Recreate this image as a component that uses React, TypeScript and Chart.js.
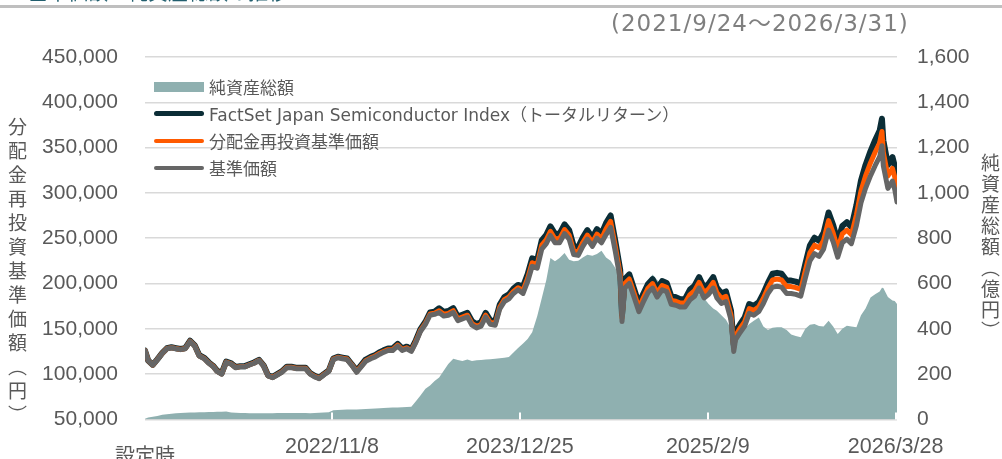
import { useEffect, useRef } from 'react';
import { Chart, registerables } from 'chart.js';

Chart.register(...registerables);

// ---- Data ----
const dates = [
  "2021-09-24","2021-10-01","2021-10-11","2021-10-21","2021-11-01","2021-11-11","2021-11-21","2021-12-01","2021-12-11","2021-12-21",
  "2022-01-01","2022-01-11","2022-01-21","2022-02-01","2022-02-11","2022-02-21","2022-03-01","2022-03-11","2022-03-21",
  "2022-04-01","2022-04-11","2022-04-21","2022-05-01","2022-05-11","2022-05-21","2022-06-01","2022-06-11","2022-06-21",
  "2022-07-01","2022-07-11","2022-07-21","2022-08-01","2022-08-11","2022-08-21","2022-09-01","2022-09-11","2022-09-21",
  "2022-10-01","2022-10-11","2022-10-21","2022-11-01","2022-11-11","2022-11-21","2022-12-01","2022-12-11","2022-12-21",
  "2023-01-01","2023-01-11","2023-01-21","2023-02-01","2023-02-11","2023-02-21","2023-03-01","2023-03-11","2023-03-21",
  "2023-04-01","2023-04-11","2023-04-21","2023-05-01","2023-05-11","2023-05-21","2023-06-01","2023-06-11","2023-06-21",
  "2023-07-01","2023-07-11","2023-07-21","2023-08-01","2023-08-11","2023-08-21","2023-09-01","2023-09-11","2023-09-21",
  "2023-10-01","2023-10-11","2023-10-21","2023-11-01","2023-11-11","2023-11-21","2023-12-01","2023-12-11","2023-12-21",
  "2024-01-01","2024-01-11","2024-01-21","2024-02-01","2024-02-11","2024-02-21","2024-03-01","2024-03-11","2024-03-21",
  "2024-04-01","2024-04-11","2024-04-21","2024-05-01","2024-05-11","2024-05-21","2024-06-01","2024-06-11","2024-06-21",
  "2024-07-01","2024-07-11","2024-07-21","2024-08-01","2024-08-05","2024-08-11","2024-08-21","2024-09-01","2024-09-11","2024-09-21",
  "2024-10-01","2024-10-11","2024-10-21","2024-11-01","2024-11-11","2024-11-21","2024-12-01","2024-12-11","2024-12-21",
  "2025-01-01","2025-01-11","2025-01-21","2025-02-01","2025-02-11","2025-02-21","2025-03-01","2025-03-11","2025-03-21",
  "2025-04-01","2025-04-07","2025-04-11","2025-04-21","2025-05-01","2025-05-11","2025-05-21","2025-06-01","2025-06-11","2025-06-21",
  "2025-07-01","2025-07-11","2025-07-21","2025-08-01","2025-08-11","2025-08-21","2025-09-01","2025-09-11","2025-09-21",
  "2025-10-01","2025-10-11","2025-10-21","2025-11-01","2025-11-11","2025-11-21","2025-12-01","2025-12-11","2025-12-21",
  "2026-01-01","2026-01-11","2026-01-21","2026-02-01","2026-02-11","2026-02-21","2026-02-26","2026-03-01","2026-03-11","2026-03-21","2026-03-26","2026-03-31",
];

// 純資産総額（億円）
const netAssetsOku = [
  3,8,12,15,20,23,25,27,28,29,
  30,31,32,32,33,33,34,34,35, 31,29,28,28,27,27,27,27,27, 27,28,28,28,28,28,28,28,27, 28,29,30,32,40,42,43,44,44,
  44,45,46,47,48,49,50,51,52, 53,54,55,56,80,105,135,150,170, 185,215,245,268,262,258,265,258,261, 262,265,266,268,270,272,275,295,315,
  335,355,385,455,535,615,713,698,713, 735,705,698,700,715,727,722,730,745, 715,700,670,620,590,600,596,540,510,580, 610,640,615,596,575,555,548,540,538,
  545,550,552,535,509,490,480,460,440, 400,320,330,377,400,421,435,450,410,395, 405,407,407,395,375,368,363,400,418, 421,412,410,436,410,377,400,414,410,
  407,460,490,538,552,565,581,580,540,525,523,509,
];

// 基準価額（千円）
const baseNavK = [
  126,115,110,116,123,128,129,128,127,128,
  136,131,120,117,112,108,103,100,113, 111,107,108,108,110,112,115,109,98, 96,99,102,107,107,106,106,106,100, 97,95,99,103,116,118,117,116,110,
  102,108,114,117,119,122,124,126,126, 131,126,128,125,135,147,155,165,166, 168,164,165,168,159,161,163,154,151, 153,163,155,154,172,180,183,189,193,
  189,202,219,217,238,244,253,245,245, 255,249,232,231,241,249,241,250,245, 254,262,236,205,158,195,200,184,169,180, 190,195,185,193,191,177,176,174,174,
  182,186,195,184,188,195,184,178,180, 160,125,138,146,153,167,165,169,178,189, 196,197,196,189,189,188,186,206,225, 233,230,238,259,246,229,245,249,244,
  264,289,305,319,330,340,352,330,305,313,304,290,
];

// 分配金再投資基準価額（千円）
const reinvestNavK = [
  126,115,110,116.1,123.1,128.2,129.2,128.2,127.2,128.2,
  136.3,131.3,120.3,117.3,112.3,108.3,103.3,100.3,113.3, 111.3,107.3,108.3,108.3,110.3,112.3,115.3,109.3,98.3, 96.5,99.5,102.5,107.5,107.5,106.5,106.5,106.5,100.5, 97.5,95.5,99.5,103.5,116.6,118.6,117.6,116.6,110.6,
  102.8,108.9,114.9,117.9,120,123,125,127,127, 132,127,129,126,136.1,148.2,156.2,166.3,167.3, 170,166,167,170,160.9,162.9,165,155.8,152.8, 154.8,165,156.9,155.8,174.1,182.2,185.2,191.3,195.3,
  192.4,205.6,222.9,220.9,242.3,248.4,257.6,249.4,249.4, 259.6,253.5,236.2,235.2,245.3,253.5,245.3,254.5,249.4, 260.4,268.6,241.9,210.1,162,199.9,205,188.6,173.2,184.5, 194.8,199.9,189.6,197.8,195.8,181.4,180.4,178.4,178.4,
  187.8,192,201.2,189.9,194,201.2,189.9,183.7,185.8, 165.1,129,142.4,150.7,157.9,172.3,170.3,174.4,183.7,195, 203.8,204.9,203.8,196.6,196.6,195.5,193.4,214.2,234, 242.3,239.2,247.5,269.4,255.8,238.2,254.8,259,253.8,
  275.9,302,318.7,333.4,344.9,355.3,367.8,344.9,318.7,327.1,317.7,303.1,
];

// FactSet Japan Semiconductor Index（トータルリターン）（千円換算）
const indexTRK = [
  126,115,110.2,116.3,123.4,128.5,129.6,128.6,127.7,128.7,
  136.8,131.8,120.8,117.8,112.8,108.8,103.8,100.8,113.8, 111.8,107.8,108.8,108.8,110.8,112.8,115.8,109.7,98.6, 97,100,103,108.1,108.1,107.1,107.1,107.1,101, 98,96,100,104,117.2,119.2,118.2,117.2,111.1,
  103.8,109.9,116.1,119.1,121.1,124.2,126.2,128.3,128.3, 133.4,128.3,130.3,127.3,137.4,149.6,157.8,168,169, 172.7,168.6,169.6,172.7,163.5,165.5,167.6,158.3,155.2, 157.3,167.6,159.3,158.3,176.8,185,188.1,194.3,198.4,
  196.6,210.1,227.8,225.7,247.5,253.8,263.1,254.8,254.8, 265.2,259,241.3,240.2,250.6,259,250.6,260,254.8, 266.7,275.1,247.8,215.3,165.9,204.8,210,193.2,177.5,189, 199.5,204.8,194.3,202.7,200.6,185.9,184.8,182.7,182.7,
  193.3,197.5,207.1,195.4,199.7,207.1,195.4,189,191.2, 169.9,132.8,146.6,155.1,162.5,177.4,175.2,179.5,189,200.7, 210.7,211.8,210.7,203.2,203.2,202.1,200,221.5,241.9, 250.5,247.3,255.9,278.4,264.5,246.2,263.4,267.7,262.3,
  286.4,313.6,330.9,346.1,358.1,368.9,381.9,358.1,330.9,339.6,329.8,314.7,
];

const seriesNames = [
  '純資産総額',
  'FactSet Japan Semiconductor Index（トータルリターン）',
  '分配金再投資基準価額',
  '基準価額',
];
const seriesColors = ['#8FB0B0', '#0B2D36', '#FF5A00', '#666666'];

const xTickDates = ["2021-09-24", "2022-11-08", "2023-12-25", "2025-02-09", "2026-03-28"];
const xTickLabels = ["設定時", "2022/11/8", "2023/12/25", "2025/2/9", "2026/3/28"];
const leftAxisRange = [50000, 450000, 50000];
const rightAxisRange = [0, 1600, 200];

const titleText = '■基準価額・純資産総額の推移';
const periodText = '(2021/9/24～2026/3/31)';
const leftAxisTitle = '分配金再投資基準価額（円）';
const rightAxisTitle = '純資産総額（億円）';

const TEXT = '#595959';
const JP = "'Noto Sans CJK JP', 'Noto Sans', sans-serif";

export default function App() {
  const ref = useRef<HTMLCanvasElement>(null);

  useEffect(() => {
    const t0 = Date.parse(dates[0]);
    const dayOf = (s: string) => Math.round((Date.parse(s) - t0) / 86400000);
    const xs = dates.map(dayOf);
    const tickDays = xTickDates.map(dayOf);
    const pts = (arr: number[], k: number) => arr.map((v, i) => ({ x: xs[i], y: v * k }));

    const extras = {
      id: 'extras',
      afterDatasetsDraw(chart: any) {
        const { ctx, chartArea, scales } = chart;
        ctx.save();
        ctx.strokeStyle = '#ffffff';
        ctx.lineWidth = 2;
        tickDays.forEach((d, i) => {
          if (i === 0) return;
          const x = Math.round(scales.x.getPixelForValue(d));
          ctx.beginPath();
          ctx.moveTo(x, chartArea.bottom - 7);
          ctx.lineTo(x, chartArea.bottom);
          ctx.stroke();
        });
        ctx.restore();
      },
      afterDraw(chart: any) {
        const { ctx, scales } = chart;
        ctx.save();
        ctx.fillStyle = TEXT;
        ctx.font = `20px ${JP}`;
        ctx.textAlign = 'center';
        ctx.textBaseline = 'middle';
        ctx.fillText(xTickLabels[0], scales.x.getPixelForValue(tickDays[0]), 455);
        ctx.restore();
      },
    };

    const tickFont = { family: "'Liberation Sans', Arial, sans-serif", size: 21 };
    const lineCommon = { pointRadius: 0, fill: false, tension: 0, borderJoinStyle: 'round' as const, borderCapStyle: 'round' as const, yAxisID: 'y' };

    const chart = new Chart(ref.current!, {
      type: 'line',
      data: {
        datasets: [
          { ...lineCommon, label: seriesNames[3], data: pts(baseNavK, 1000), borderColor: seriesColors[3], borderWidth: 5, order: 0 },
          { ...lineCommon, label: seriesNames[2], data: pts(reinvestNavK, 1000), borderColor: seriesColors[2], borderWidth: 5, order: 1 },
          { ...lineCommon, label: seriesNames[1], data: pts(indexTRK, 1000), borderColor: seriesColors[1], borderWidth: 6, order: 2 },
          { label: seriesNames[0], data: pts(netAssetsOku, 1), yAxisID: 'y1', fill: 'origin', backgroundColor: seriesColors[0], borderColor: 'rgba(0,0,0,0)', borderWidth: 0, pointRadius: 0, tension: 0, order: 3 },
        ] as any,
      },
      options: {
        animation: false,
        responsive: true,
        maintainAspectRatio: false,
        layout: { padding: { top: 57, left: 0, right: 0, bottom: 0 } },
        plugins: { legend: { display: false }, tooltip: { enabled: false } },
        scales: {
          x: {
            type: 'linear',
            min: 0,
            max: xs[xs.length - 1],
            grid: { display: false, drawTicks: false },
            border: { display: false },
            afterBuildTicks: (s: any) => { s.ticks = tickDays.map((v) => ({ value: v })); },
            afterFit: (s: any) => { s.height = 36; },
            ticks: {
              autoSkip: false,
              maxRotation: 0,
              padding: 15,
              color: TEXT,
              font: { family: "'Liberation Sans', Arial, sans-serif", size: 21.5 },
              callback: (_v: any, i: number) => (i === 0 ? '' : xTickLabels[i]),
            },
          },
          y: {
            position: 'left',
            min: leftAxisRange[0],
            max: leftAxisRange[1],
            afterFit: (s: any) => { s.width = 145; },
            grid: { color: '#d9d9d9', lineWidth: 1.5, drawTicks: false },
            border: { display: false },
            ticks: {
              stepSize: leftAxisRange[2],
              padding: 27,
              color: TEXT,
              font: tickFont,
              callback: (v: any) => Number(v).toLocaleString('en-US'),
            },
          },
          y1: {
            position: 'right',
            min: rightAxisRange[0],
            max: rightAxisRange[1],
            afterFit: (s: any) => { s.width = 105; },
            grid: { display: false, drawTicks: false },
            border: { display: false },
            ticks: {
              stepSize: rightAxisRange[2],
              padding: 20,
              color: TEXT,
              font: tickFont,
              callback: (v: any) => Number(v).toLocaleString('en-US'),
            },
          },
        },
      } as any,
      plugins: [extras],
    });
    return () => chart.destroy();
  }, []);

  const legendRows = [
    { kind: 'box', h: 10 },
    { kind: 'line', h: 5 },
    { kind: 'line', h: 4 },
    { kind: 'line', h: 4 },
  ];

  return (
    <div style={{ position: 'absolute', left: 0, top: 0, width: 1002, height: 459, overflow: 'hidden', background: '#fff' }}>
      <canvas ref={ref} />
      <div style={{ position: 'absolute', left: 8, top: -18, fontFamily: JP, fontSize: 20, lineHeight: '20px', color: '#215E6E', whiteSpace: 'nowrap' }}>{titleText}</div>
      <div style={{ position: 'absolute', left: 0, top: 5, width: 1002, height: 3, background: '#bfbfbf' }} />
      <div style={{ position: 'absolute', left: 611, top: 12, fontFamily: "'DejaVu Sans', 'Noto Sans CJK JP', sans-serif", fontSize: 23, lineHeight: '23px', letterSpacing: 1, color: '#7f7f7f', whiteSpace: 'nowrap' }}>{periodText}</div>
      <div style={{ position: 'absolute', left: 154, top: 73 }}>
        {legendRows.map((r, i) => (
          <div key={i} style={{ display: 'flex', alignItems: 'center', height: 27 }}>
            <div style={{ width: 50, height: r.h, background: seriesColors[i], borderRadius: r.kind === 'line' ? r.h / 2 : 0, marginRight: 5 }} />
            <span style={{ fontFamily: "'DejaVu Sans', 'Noto Sans CJK JP', sans-serif", fontSize: 17, color: TEXT, whiteSpace: 'nowrap' }}>{seriesNames[i]}</span>
          </div>
        ))}
      </div>
      <div style={{ position: 'absolute', left: 8, top: 117, writingMode: 'vertical-rl', fontFamily: JP, fontSize: 19, lineHeight: '19px', letterSpacing: 5, color: TEXT }}>{leftAxisTitle}</div>
      <div style={{ position: 'absolute', left: 981, top: 153, writingMode: 'vertical-rl', fontFamily: JP, fontSize: 19, lineHeight: '19px', letterSpacing: 2, color: TEXT }}>{rightAxisTitle}</div>
    </div>
  );
}
